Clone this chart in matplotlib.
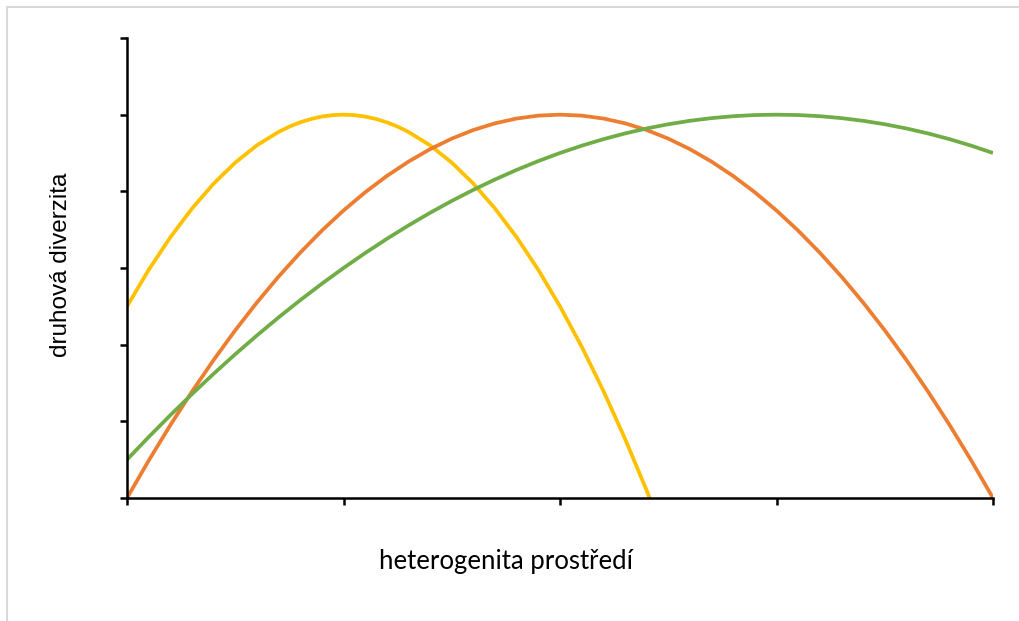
import numpy as np
import matplotlib.pyplot as plt
from matplotlib.patches import Rectangle

# values (x in tick units 0..4, y in tick units 0..6)
x_yellow = [0.0, 0.1, 0.2, 0.3, 0.4, 0.5, 0.6, 0.7, 0.75, 0.8, 0.85, 0.9,
            0.95, 1.0, 1.05, 1.1, 1.15, 1.2, 1.25, 1.3, 1.4, 1.5, 1.6, 1.7,
            1.8, 1.9, 2.0, 2.1, 2.2, 2.3, 2.4, 2.414]
y_yellow = [2.5, 2.975, 3.4, 3.775, 4.1, 4.375, 4.6, 4.775, 4.844, 4.9,
            4.944, 4.975, 4.994, 5.0, 4.994, 4.975, 4.944, 4.9, 4.844, 4.775,
            4.6, 4.375, 4.1, 3.775, 3.4, 2.975, 2.5, 1.975, 1.4, 0.775, 0.1,
            0.0]

x_full = [round(0.1 * i, 1) for i in range(41)]
y_orange = [0.0, 0.4875, 0.95, 1.3875, 1.8, 2.1875, 2.55, 2.8875, 3.2, 3.4875,
            3.75, 3.9875, 4.2, 4.3875, 4.55, 4.6875, 4.8, 4.8875, 4.95, 4.9875,
            5.0, 4.9875, 4.95, 4.8875, 4.8, 4.6875, 4.55, 4.3875, 4.2, 3.9875,
            3.75, 3.4875, 3.2, 2.8875, 2.55, 2.1875, 1.8, 1.3875, 0.95, 0.4875,
            0.0]
y_green = [0.5, 0.795, 1.08, 1.355, 1.62, 1.875, 2.12, 2.355, 2.58, 2.795,
           3.0, 3.195, 3.38, 3.555, 3.72, 3.875, 4.02, 4.155, 4.28, 4.395,
           4.5, 4.595, 4.68, 4.755, 4.82, 4.875, 4.92, 4.955, 4.98, 4.995,
           5.0, 4.995, 4.98, 4.955, 4.92, 4.875, 4.82, 4.755, 4.68, 4.595,
           4.5]

W, H = 1019, 621
fig = plt.figure(figsize=(W / 100, H / 100), dpi=100)
plt.rcParams['font.family'] = ['Lato', 'DejaVu Sans']

# light grey chart-area border (right/bottom edges fall outside the image)
fig.patches.append(Rectangle((6.5 / W, -0.1), 1.2, 1.1 - 6.5 / H,
                             transform=fig.transFigure, fill=False,
                             edgecolor='#d9d9d9', linewidth=1.5))

ax = fig.add_axes([127 / W, 1 - 498 / H, (993 - 127) / W, (498 - 38) / H])
ax.plot(x_yellow, y_yellow, color='#FFC000', lw=2.7, solid_capstyle='butt')
ax.plot(x_full, y_orange, color='#ED7D31', lw=2.7, solid_capstyle='butt')
ax.plot(x_full, y_green, color='#70AD47', lw=2.7, solid_capstyle='butt')

ax.set_xlim(0, 4)
ax.set_ylim(0, 6)
ax.set_xticks(range(5))
ax.set_yticks(range(7))
ax.set_xticklabels([])
ax.set_yticklabels([])
ax.tick_params(direction='out', length=5, width=1.8, color='black')
for s in ['top', 'right']:
    ax.spines[s].set_visible(False)
for s in ['left', 'bottom']:
    ax.spines[s].set_linewidth(1.8)
    ax.spines[s].set_color('black')
    ax.spines[s].set_capstyle('projecting')

fig.text(506 / W, 1 - 561 / H, 'heterogenita prostředí', ha='center',
         va='center', fontsize=18.5)
fig.text(61 / W, 1 - 265 / H, 'druhová diverzita', ha='center',
         va='center', rotation=90, fontsize=17.5, family='Liberation Sans')

fig.savefig('out.png', dpi=100)
